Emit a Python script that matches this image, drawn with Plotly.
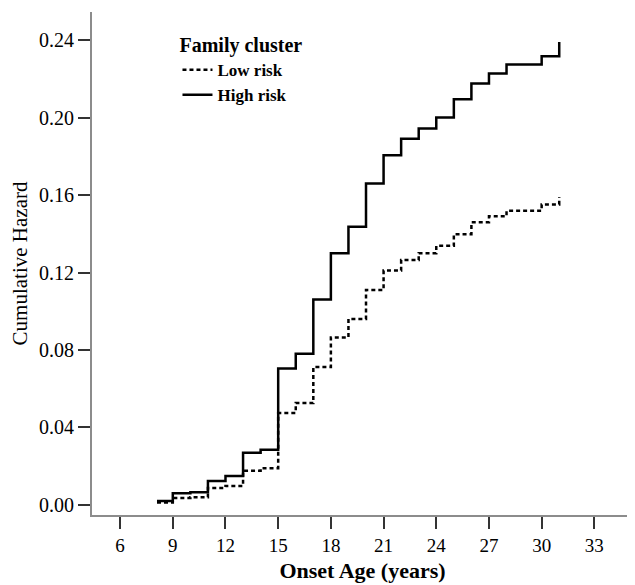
import plotly.graph_objects as go

# Data (step functions, cumulative hazard)
ages = [8.1, 9, 10, 11, 12, 13, 14, 15, 16, 17, 18, 19, 20, 21, 22, 23, 24, 25, 26, 27, 28, 30, 31]
hazard_low = [0.0012, 0.0036, 0.004, 0.0088, 0.0098, 0.0177, 0.019, 0.0475, 0.0526, 0.0712, 0.0865,
              0.096, 0.111, 0.121, 0.1264, 0.130, 0.1338, 0.1398, 0.1459, 0.149, 0.1519, 0.1551, 0.159]
hazard_high = [0.002, 0.006, 0.0065, 0.0124, 0.015, 0.027, 0.0285, 0.0705, 0.078, 0.106, 0.130,
               0.1436, 0.166, 0.1806, 0.189, 0.1944, 0.200, 0.2094, 0.2176, 0.2228, 0.2274, 0.2317, 0.239]
series_names = ["Low risk", "High risk"]
x_ticks = [6, 9, 12, 15, 18, 21, 24, 27, 30, 33]
y_ticks = [0.00, 0.04, 0.08, 0.12, 0.16, 0.20, 0.24]

SERIF = "Liberation Serif, Times New Roman, serif"

fig = go.Figure()
fig.add_trace(go.Scatter(x=ages, y=hazard_low, mode="lines", line_shape="hv", name=series_names[0],
                         line=dict(color="black", width=2.5, dash="4px,3px")))
fig.add_trace(go.Scatter(x=ages, y=hazard_high, mode="lines", line_shape="hv", name=series_names[1],
                         line=dict(color="black", width=2.5)))

# page body has an 8px margin, so the figure is sized/margined to compensate
fig.update_layout(
    width=627, height=577,
    margin=dict(l=84, r=2, t=4, b=70),
    paper_bgcolor="white", plot_bgcolor="white",
    font=dict(family=SERIF, color="black"),
    showlegend=True,
    legend=dict(
        x=0.158, y=0.972, xanchor="left", yanchor="top",
        title=dict(text="Family cluster", font=dict(family=SERIF, size=20, color="black", weight="bold")),
        font=dict(family=SERIF, size=17, color="black", weight="bold"),
        bgcolor="rgba(0,0,0,0)", itemwidth=30, tracegroupgap=0,
    ),
    xaxis=dict(
        range=[4.4, 35.2], tickvals=x_ticks, ticks="outside", ticklen=12, tickwidth=1.5,
        tickcolor="#333", showline=True, linecolor="#8c8c8c", linewidth=2, showgrid=False,
        zeroline=False, automargin=False, tickfont=dict(family=SERIF, size=19, color="black"),
        title=dict(text="Onset Age (years)", font=dict(family=SERIF, size=22, color="black", weight="bold"),
                   standoff=8),
    ),
    yaxis=dict(
        range=[-0.0052, 0.2545], tickvals=y_ticks, tickformat=".2f", ticks="outside", ticklen=12,
        tickwidth=1.5, tickcolor="#333", showline=True, linecolor="#8c8c8c", linewidth=2,
        showgrid=False, zeroline=False, automargin=False,
        tickfont=dict(family=SERIF, size=20, color="black"),
        title=dict(text="Cumulative Hazard", font=dict(family=SERIF, size=21, color="black"),
                   standoff=8),
    ),
)

fig.write_html("out.html")
